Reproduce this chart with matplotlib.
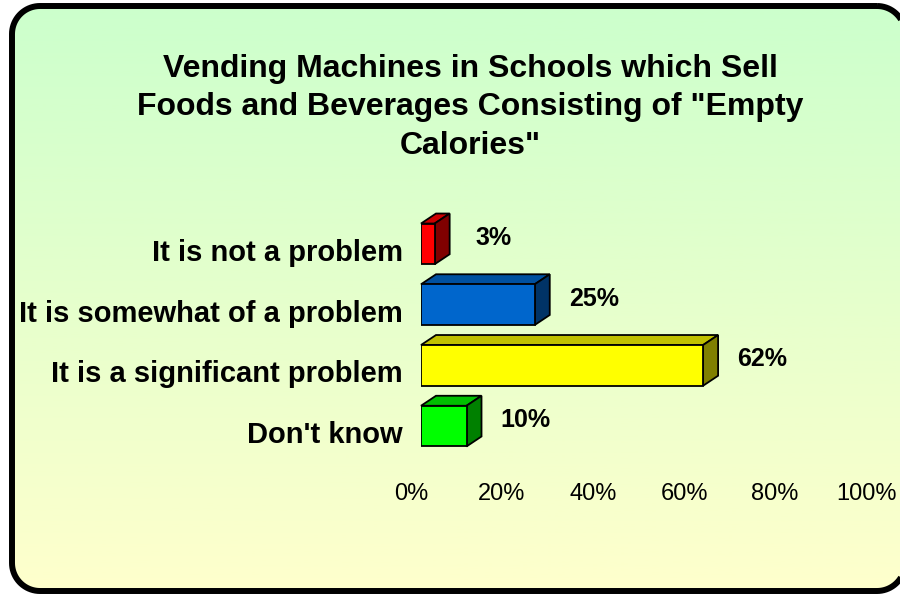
import numpy as np
import matplotlib
matplotlib.use("Agg")
import matplotlib.pyplot as plt
from matplotlib.patches import Polygon
from matplotlib.transforms import offset_copy

plt.rcParams['font.family'] = ['Liberation Sans', 'DejaVu Sans']

title_lines = ['Vending Machines in Schools which Sell',
               'Foods and Beverages Consisting of "Empty',
               'Calories"']
categories = ['It is not a problem', 'It is somewhat of a problem',
              'It is a significant problem', "Don't know"]
values = [3, 25, 62, 10]
front_colors = ['#FF0000', '#0066CC', '#FFFF00', '#00FF00']
top_colors = ['#CC0000', '#0050A0', '#C0C000', '#00C000']
side_colors = ['#800000', '#003366', '#808000', '#008000']
ticks = [0, 20, 40, 60, 80, 100]
tick_labels = ['0%', '20%', '40%', '60%', '80%', '100%']

W, H = 900, 594
fig = plt.figure(figsize=(W / 100, H / 100), dpi=100)
fig.patch.set_facecolor('white')


def rounded_rect(x0, y0, x1, y1, r, n=20):
    """polygon outline of a rounded rectangle (y grows downwards)"""
    pts = []
    corners = [(x1 - r, y0 + r, -90, 0), (x1 - r, y1 - r, 0, 90),
               (x0 + r, y1 - r, 90, 180), (x0 + r, y0 + r, 180, 270)]
    for cx, cy, a0, a1 in corners:
        a = np.radians(np.linspace(a0, a1, n))
        pts += list(zip(cx + r * np.cos(a), cy + r * np.sin(a)))
    return pts


# background: rounded box with green -> yellow gradient
bg = fig.add_axes([0, 0, 1, 1])
bg.axis('off')
box = Polygon(rounded_rect(12, 6, 905, 591, 28), closed=True, facecolor='none',
              edgecolor='black', lw=4.3, zorder=3)
bg.add_patch(box)
grad = np.linspace(0, 1, 256)[:, None]
c_top = np.array([204, 255, 204]) / 255
c_bot = np.array([255, 255, 204]) / 255
img = c_top[None, None, :] * (1 - grad[:, :, None]) + c_bot[None, None, :] * grad[:, :, None]
im = bg.imshow(img, extent=(12, 905, 591, 6), aspect='auto', zorder=1)
im.set_clip_path(box)
bg.set_xlim(0, W)
bg.set_ylim(H, 0)

for k, line in enumerate(title_lines):
    fig.text(470 / W, 1 - (77 + 38.5 * k) / H, line, ha='center', va='baseline',
             fontsize=23, fontweight='bold')

# bar axes
px_per_pct = 4.55
row_px = 60.75
ax = fig.add_axes([421 / W, 137.5 / H, 455 / W, 243 / H])
ax.set_xlim(0, 100)
ax.set_ylim(3.5, -0.5)
ax.axis('off')

bar_h = 0.67
dx = 15 / px_per_pct
dy = 10 / row_px
ypos = np.arange(len(categories))
for i, v in enumerate(values):
    y0 = ypos[i] - bar_h / 2
    y1 = ypos[i] + bar_h / 2
    ax.add_patch(Polygon([(0, y0), (v, y0), (v + dx, y0 - dy), (dx, y0 - dy)],
                         closed=True, facecolor=top_colors[i], edgecolor='black',
                         lw=1.3, zorder=2, clip_on=False))
    ax.add_patch(Polygon([(v, y0), (v + dx, y0 - dy), (v + dx, y1 - dy), (v, y1)],
                         closed=True, facecolor=side_colors[i], edgecolor='black',
                         lw=1.3, zorder=2, clip_on=False))
ax.barh(ypos, values, height=bar_h, left=0, color=front_colors,
        edgecolor='black', lw=1.3, zorder=3)

cat_tr = offset_copy(ax.transData, fig=fig, x=-18 * 0.72, y=-17 * 0.72, units='points')
for i, c in enumerate(categories):
    ax.text(0, ypos[i], c, transform=cat_tr, ha='right', va='baseline',
            fontsize=21, fontweight='bold', clip_on=False)

val_tr = offset_copy(ax.transData, fig=fig, x=59 * 0.72, y=-1 * 0.72, units='points')
for i, v in enumerate(values):
    ax.text(v, ypos[i], f'{v}%', transform=val_tr, ha='center', va='baseline',
            fontsize=18, fontweight='bold', clip_on=False)

tick_tr = offset_copy(ax.get_xaxis_transform(), fig=fig, x=-10 * 0.72, y=-43.5 * 0.72,
                      units='points')
for t, lab in zip(ticks, tick_labels):
    ax.text(t, 0, lab, transform=tick_tr, ha='center', va='baseline',
            fontsize=17, clip_on=False)

fig.savefig('out.png', dpi=100)
